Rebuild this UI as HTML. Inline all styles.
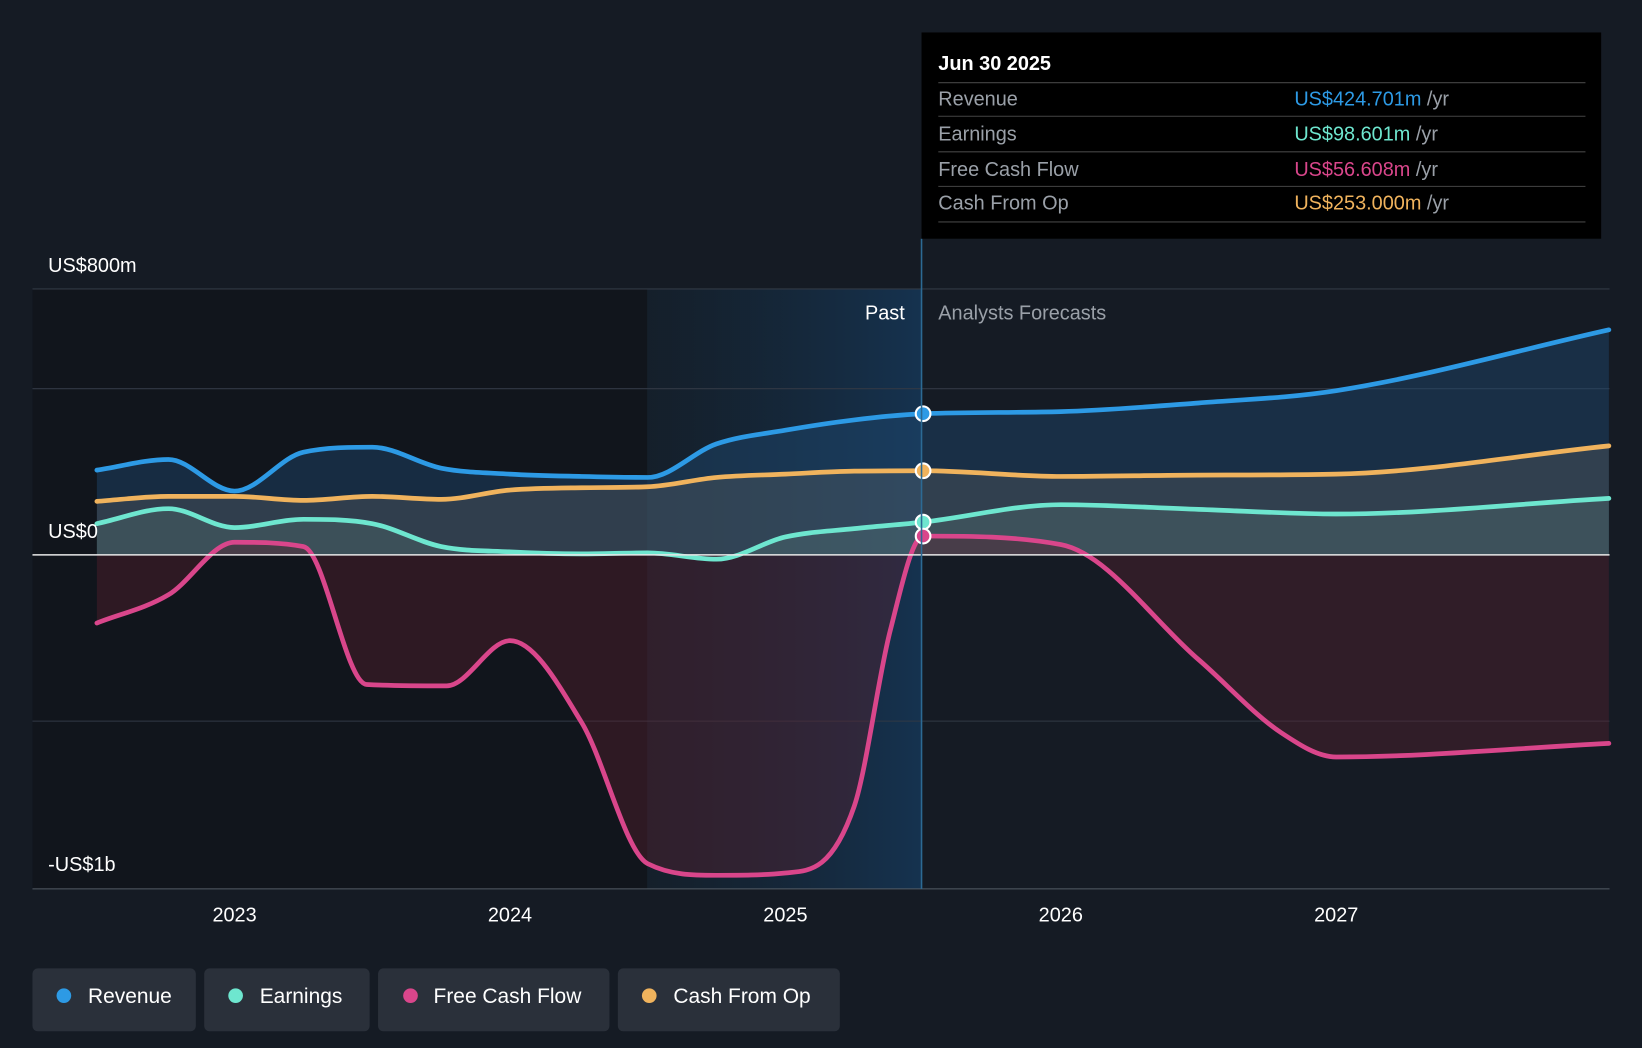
<!DOCTYPE html>
<html><head><meta charset="utf-8"><style>
html,body{margin:0;padding:0;background:#151b24;}
svg{display:block;font-family:"Liberation Sans",sans-serif;}
</style></head><body>
<svg id="chart" width="1642" height="1048" viewBox="0 0 1568 1001" preserveAspectRatio="none">
<defs>
<linearGradient id="pastGrad" x1="0" x2="1" y1="0" y2="0"><stop offset="0" stop-color="#14293a" stop-opacity="0.3"/><stop offset="1" stop-color="#15385a" stop-opacity="0.8"/></linearGradient>
</defs>
<rect width="1568" height="1001" fill="#151b24"/>
<rect x="31" y="276" width="587" height="573" fill="#11151c"/>
<rect x="618" y="276" width="262" height="573" fill="url(#pastGrad)"/>
<g id="grid"></g>
<g id="areas"></g>
<g id="lines"></g>
<g id="dots"></g>
<line x1="31" x2="1537" y1="530" y2="530" stroke="#e8e8e8" stroke-width="1.5"/>
<line x1="880" x2="880" y1="228" y2="849" stroke="#2c6a94" stroke-width="1.5"/>
<text x="864" y="305" fill="#ffffff" font-size="19" text-anchor="end">Past</text>
<text x="896" y="305" fill="#9aa0a8" font-size="19">Analysts Forecasts</text>
<text x="46" y="260" fill="#fff" font-size="19">US$800m</text>
<text x="46" y="514" fill="#fff" font-size="19">US$0</text>
<text x="46" y="832" fill="#fff" font-size="19">-US$1b</text>
<g id="xticks"></g>
<g>
<rect x="880" y="31" width="649" height="197" fill="#000"/>
<text x="896" y="67" fill="#fff" font-size="19" font-weight="bold">Jun 30 2025</text>
<line x1="896" x2="1514" y1="79" y2="79" stroke="#444"/>
<text x="896" y="101" fill="#9aa0a8" font-size="19">Revenue</text><text x="1236" y="101" font-size="19" fill="#2d9ae5">US$424.701m <tspan fill="#9aa0a8">/yr</tspan></text>
<line x1="896" x2="1514" y1="111" y2="111" stroke="#444"/>
<text x="896" y="134" fill="#9aa0a8" font-size="19">Earnings</text><text x="1236" y="134" font-size="19" fill="#6ee6cf">US$98.601m <tspan fill="#9aa0a8">/yr</tspan></text>
<line x1="896" x2="1514" y1="145" y2="145" stroke="#444"/>
<text x="896" y="168" fill="#9aa0a8" font-size="19">Free Cash Flow</text><text x="1236" y="168" font-size="19" fill="#d9468b">US$56.608m <tspan fill="#9aa0a8">/yr</tspan></text>
<line x1="896" x2="1514" y1="178" y2="178" stroke="#444"/>
<text x="896" y="200" fill="#9aa0a8" font-size="19">Cash From Op</text><text x="1236" y="200" font-size="19" fill="#f0b35d">US$253.000m <tspan fill="#9aa0a8">/yr</tspan></text>
<line x1="896" x2="1514" y1="212" y2="212" stroke="#444"/>
</g>
<g>
<g><rect x="31" y="925" width="156" height="60" rx="5" fill="#2a303a"/><circle cx="61" cy="951" r="7" fill="#2d9ae5"/><text x="84" y="958" fill="#fff" font-size="20">Revenue</text></g>
<g><rect x="195" y="925" width="158" height="60" rx="5" fill="#2a303a"/><circle cx="225" cy="951" r="7" fill="#6ee6cf"/><text x="248" y="958" fill="#fff" font-size="20">Earnings</text></g>
<g><rect x="361" y="925" width="221" height="60" rx="5" fill="#2a303a"/><circle cx="392" cy="951" r="7" fill="#d9468b"/><text x="414" y="958" fill="#fff" font-size="20">Free Cash Flow</text></g>
<g><rect x="590" y="925" width="212" height="60" rx="5" fill="#2a303a"/><circle cx="620" cy="951" r="7" fill="#f0b35d"/><text x="643" y="958" fill="#fff" font-size="20">Cash From Op</text></g>
</g>
</svg>
<script>
const years=[2022.5,2022.76,2023.0,2023.25,2023.5,2023.75,2024.0,2024.26,2024.5,2024.75,2025.0,2025.25,2025.5,2026.0,2026.5,2027.0,2027.99];
const revenue=[255,287,192,309,324,261,243,236,233,334,375,406,424.7,431,457,494,677];
const earnings=[94,139,82,107,94,25,9,3,6,-13,54,79,98.6,151,137,123,170];
const cashFromOp=[161,176,176,164,176,167,195,202,205,233,243,252,253,236,240,243,328];
const fcfYears=[2022.5,2022.76,2023.0,2023.25,2023.48,2023.77,2024.0,2024.26,2024.5,2024.75,2025.0,2025.25,2025.38,2025.5,2026.0,2026.5,2026.8,2027.0,2027.99];
const fcf=[-205,-120,38,25,-390,-394,-258,-504,-929,-964,-957,-756,-230,56.6,31,-315,-535,-608,-567];
const tickYears=[2023,2024,2025,2026,2027];
const gridVals=[800,500,-500];
const x=t=>224+(t-2023)*263;
const y=v=>530-v*0.3175;
const NS='http://www.w3.org/2000/svg';
function mk(tag,attrs,parent){const e=document.createElementNS(NS,tag);for(const k in attrs)e.setAttribute(k,attrs[k]);document.getElementById(parent).appendChild(e);return e;}
function path(xs,vs){const X=xs.map(x),Y=vs.map(y),n=X.length;
const d=[],m=new Array(n);for(let i=0;i<n-1;i++)d.push((Y[i+1]-Y[i])/(X[i+1]-X[i]));
m[0]=d[0];m[n-1]=d[n-2];
for(let i=1;i<n-1;i++){m[i]=(d[i-1]*d[i]<=0)?0:(d[i-1]+d[i])/2;}
for(let i=0;i<n-1;i++){if(d[i]===0){m[i]=0;m[i+1]=0;continue;}const a=m[i]/d[i],b=m[i+1]/d[i],s=a*a+b*b;if(s>9){const t=3/Math.sqrt(s);m[i]=t*a*d[i];m[i+1]=t*b*d[i];}}
let p='M'+X[0]+','+Y[0];
for(let i=0;i<n-1;i++){const h=(X[i+1]-X[i])/3;p+=` C${X[i]+h},${Y[i]+m[i]*h} ${X[i+1]-h},${Y[i+1]-m[i+1]*h} ${X[i+1]},${Y[i+1]}`;}
return p;}
gridVals.forEach(v=>{const l=mk('line',{x1:31,x2:1537,y1:y(v),y2:y(v),stroke:'#323945','stroke-width':1},'grid');

});
const bl=mk('line',{x1:31,x2:1537,y1:849,y2:849,stroke:'#555c66','stroke-width':1},'grid');


tickYears.forEach(t=>{const tx=mk('text',{x:x(t),y:880,fill:'#fff','font-size':19,'text-anchor':'middle'},'xticks');tx.textContent=t;

});
const series=[
 {n:'revenue',xs:years,v:revenue,c:'#2d9ae5',f:'#1f4a70',o:0.45},
 {n:'cash-from-op',xs:years,v:cashFromOp,c:'#f0b35d',f:'#6a6a66',o:0.3},
 {n:'earnings',xs:years,v:earnings,c:'#6ee6cf',f:'#5a7a78',o:0.3},
 {n:'free-cash-flow',xs:fcfYears,v:fcf,c:'#d9468b',f:'#5a2030',o:0.4}];
series.forEach(s=>{const d=path(s.xs,s.v);
const a=mk('path',{d:d+` L${x(s.xs[s.xs.length-1])},530 L${x(s.xs[0])},530 Z`,fill:s.f,'fill-opacity':s.o},'areas');


const l=mk('path',{d:d,fill:'none',stroke:s.c,'stroke-width':4.5,'stroke-linecap':'round'},'lines');


const i=s.xs.indexOf(2025.5);
const c=mk('circle',{cx:x(2025.5),cy:y(s.v[i]),r:7,fill:s.c,stroke:'#fff','stroke-width':2},'dots');

});
</script>
</body></html>
